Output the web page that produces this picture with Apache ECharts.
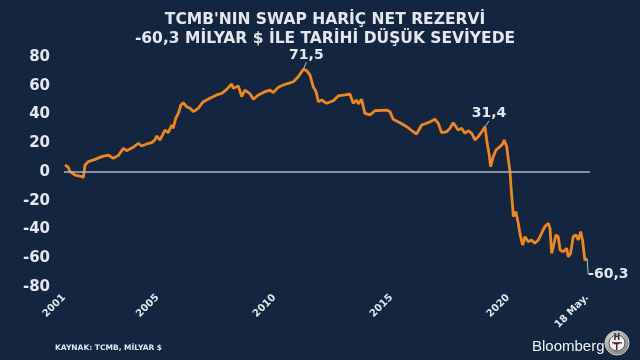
<!DOCTYPE html>
<html>
<head>
<meta charset="utf-8">
<script src="https://cdn.jsdelivr.net/npm/echarts@6/dist/echarts.min.js"></script>
<style>
html,body{margin:0;padding:0;background:#142540;}
#chart{width:640px;height:360px;}
</style>
</head>
<body>
<div id="chart"></div>
<script>
// Time in decimal years, values in billion USD (net reserves excl. swaps)
const years = [
2001.04,2001.18,2001.26,2001.47,2001.68,2001.83,2001.88,2001.90,2002.04,2002.33,2002.61,2002.89,
2003.11,2003.32,2003.54,2003.68,2003.96,2004.18,2004.32,2004.54,2004.75,2004.89,2004.96,2005.11,
2005.32,2005.46,2005.61,2005.67,2005.78,2005.89,2006.00,2006.10,2006.25,2006.39,2006.53,2006.74,
2006.96,2007.24,2007.53,2007.75,2007.96,2008.17,2008.24,2008.46,2008.60,2008.74,2008.96,2009.10,
2009.31,2009.60,2009.81,2009.95,2010.17,2010.38,2010.59,2010.81,2011.02,2011.17,2011.24,2011.38,
2011.52,2011.66,2011.78,2011.88,2012.02,2012.23,2012.52,2012.73,2013.02,2013.23,2013.37,2013.52,
2013.59,2013.73,2013.87,2014.09,2014.30,2014.80,2014.94,2015.08,2015.37,2015.66,2015.94,2016.08,
2016.30,2016.58,2016.87,2017.01,2017.15,2017.37,2017.51,2017.65,2017.86,2018.01,2018.15,2018.29,
2018.44,2018.58,2018.72,2018.87,2019.01,2019.08,2019.19,2019.25,2019.36,2019.48,2019.65,2019.76,
2019.83,2019.94,2020.00,2020.08,2020.12,2020.19,2020.22,2020.33,2020.43,2020.53,2020.62,2020.72,
2020.86,2021.00,2021.14,2021.29,2021.43,2021.57,2021.71,2021.79,2021.86,2021.93,2022.04,2022.14,
2022.22,2022.36,2022.50,2022.57,2022.67,2022.78,2022.90,2023.00,2023.10,2023.18,2023.28,2023.38
];
const reserves = [
4.9,3.3,0.2,-2.1,-2.8,-3.7,-3.5,4.9,7.2,8.8,10.7,11.8,
9.5,11.4,16.5,14.8,17.2,20.0,18.1,19.5,20.4,22.3,25.0,22.3,
29.2,27.4,32.7,30.4,37.4,40.8,46.6,48.2,45.4,44.3,42.0,44.3,
48.9,51.3,53.6,54.7,57.5,61.2,58.2,59.8,52.4,57.0,54.3,50.6,
53.6,55.9,57.0,55.2,58.9,60.5,61.7,62.8,66.3,69.8,71.5,70.5,
67.5,59.3,55.9,48.9,50.1,47.8,49.6,52.9,53.6,54.3,47.8,50.1,
47.3,50.6,40.8,39.7,42.6,43.1,42.0,36.7,34.3,31.5,28.0,26.4,
32.7,34.3,36.7,33.9,27.4,28.0,30.4,34.3,29.2,30.4,26.9,28.7,
26.9,22.3,24.6,28.0,31.4,22.3,11.8,3.7,10.7,15.3,17.6,19.5,
22.3,17.6,9.5,0.2,-10.2,-24.1,-31.1,-27.6,-35.7,-45.0,-50.8,-45.0,
-48.5,-47.3,-49.6,-47.3,-42.6,-38.0,-35.7,-39.2,-56.6,-52.0,-43.8,-45.0,
-54.3,-55.4,-53.1,-58.9,-56.6,-45.0,-43.8,-47.3,-41.5,-47.3,-61.2,-60.3
];
// Annotated points
const annotYears = [2011.24, 2019.01, 2023.38];
const annotLabels = ['71,5', '31,4', '-60,3'];
// X-axis tick labels
const tickValues = [2001, 2005, 2010, 2015, 2020, 2023.38];
const tickLabels = ['2001', '2005', '2010', '2015', '2020', '18 May.'];
const yTicks = [-80, -60, -40, -20, 0, 20, 40, 60, 80];

const textColor = '#e4e8ee';
const data = years.map((t, i) => {
  const k = annotYears.indexOf(t);
  if (k < 0) return [t, reserves[i]];
  const isLast = k === annotYears.length - 1;
  return {
    value: [t, reserves[i]],
    label: {
      show: true,
      formatter: annotLabels[k],
      position: isLast ? 'right' : 'top',
      distance: isLast ? 3 : 5,
      color: textColor,
      fontFamily: 'DejaVu Sans',
      fontWeight: 'bold',
      fontSize: 14
    }
  };
});
const lastIdx = years.length - 1;
const annotIdx = annotYears.map(t => years.indexOf(t));

const chart = echarts.init(document.getElementById('chart'), null, {renderer: 'canvas'});
chart.setOption({
  backgroundColor: '#142540',
  animation: false,
  title: [
    {
      text: "TCMB'NIN SWAP HARİÇ NET REZERVİ\n-60,3 MİLYAR $ İLE TARİHİ DÜŞÜK SEVİYEDE",
      left: 320, top: 5, textAlign: 'center',
      textStyle: {color: textColor, fontFamily: 'DejaVu Sans', fontWeight: 'bold', fontSize: 15.5, lineHeight: 19, align: 'center'}
    },
    {
      text: 'KAYNAK: TCMB, MİLYAR $',
      left: 50, top: 339,
      textStyle: {color: textColor, fontFamily: 'DejaVu Sans', fontWeight: 'bold', fontSize: 7.5}
    },
    {
      text: 'Bloomberg',
      left: 527, top: 334,
      textStyle: {color: '#f2f4f7', fontFamily: 'Liberation Sans', fontWeight: 'normal', fontSize: 15}
    }
  ],
  graphic: [
    {type: 'circle', shape: {cx: 617, cy: 343, r: 12},
     style: {fill: new echarts.graphic.RadialGradient(0.4, 0.35, 0.8, [{offset: 0, color: '#e8e8e8'}, {offset: 1, color: '#6c6c6c'}]), stroke: '#cfcfcf', lineWidth: 1}},
    {type: 'circle', shape: {cx: 617, cy: 343, r: 8}, style: {fill: '#f4f4f4', stroke: '#555', lineWidth: 1}},
    {type: 'text', left: 613.5, top: 334, style: {text: 'H', fill: '#333', font: 'bold 8px DejaVu Sans'}},
    {type: 'rect', shape: {x: 612, y: 342, width: 10, height: 1.5}, style: {fill: '#c0282d'}},
    {type: 'text', left: 614, top: 343.5, style: {text: 'T', fill: '#333', font: 'bold 8px DejaVu Sans'}}
  ],
  grid: {left: 64, right: 50, top: 57, bottom: 73, containLabel: false},
  xAxis: {
    type: 'value',
    min: 2001, max: 2023.5,
    splitLine: {show: false},
    axisLine: {show: false},
    axisTick: {show: false},
    axisLabel: {
      customValues: tickValues,
      rotate: 45,
      margin: 9,
      color: textColor,
      fontFamily: 'DejaVu Sans',
      fontWeight: 'bold',
      fontSize: 10,
      formatter: v => {
        const k = tickValues.findIndex(t => Math.abs(t - v) < 1e-6);
        return k >= 0 ? tickLabels[k] : '';
      }
    }
  },
  yAxis: {
    type: 'value',
    min: yTicks[0], max: yTicks[yTicks.length - 1], interval: 20,
    splitLine: {show: false},
    axisLine: {show: false},
    axisTick: {show: false},
    axisLabel: {
      margin: 14,
      color: textColor,
      fontFamily: 'DejaVu Sans',
      fontWeight: 'bold',
      fontSize: 15
    }
  },
  series: [{
    type: 'line',
    data: data,
    showSymbol: true,
    showAllSymbol: true,
    symbol: 'circle',
    symbolSize: 0.01,
    lineStyle: {color: '#ee8722', width: 2.8},
    itemStyle: {color: '#ee8722'},
    labelLine: {show: true, length2: 0, lineStyle: {color: '#b8c2ce', width: 1}},
    labelLayout: function (params) {
      if (params.dataIndex === lastIdx) return {dx: -2, dy: 16};
      if (params.dataIndex === annotIdx[0]) return {dx: 3, dy: -2};
      if (params.dataIndex === annotIdx[1]) return {dx: 4, dy: -1};
      return {};
    },
    markLine: {
      silent: true,
      symbol: 'none',
      label: {show: false},
      lineStyle: {color: '#aab6c4', width: 1.5, type: 'solid'},
      data: [{yAxis: 0}]
    },
    z: 3
  }]
});
</script>
</body>
</html>
